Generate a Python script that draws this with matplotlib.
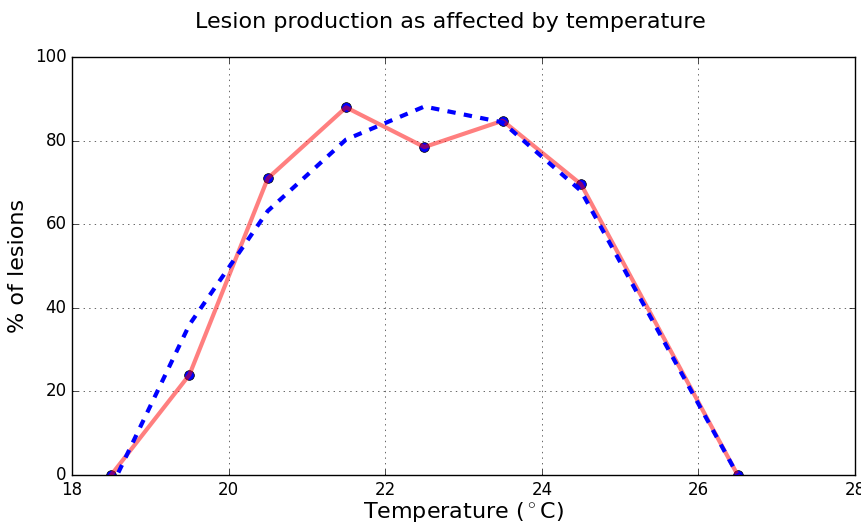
import matplotlib
matplotlib.use("Agg")
import matplotlib.pyplot as plt

# measured lesion percentages
temp = [18.5, 19.5, 20.5, 21.5, 22.5, 23.5, 24.5, 26.5]
lesions = [0, 24, 71, 88, 78.5, 84.8, 69.6, 0]

# fitted response curve
fit_temp = [18.5, 19.5, 20.5, 21.5, 22.5, 23.5, 24.5, 25.5, 26.5]
fit_lesions = [-3, 36, 63.2, 80.3, 88.2, 84.4, 68, 34, 0]


def main():
    plt.style.use('classic')
    fig = plt.figure(figsize=(8.62, 5.25), dpi=100, facecolor='white')
    ax = fig.add_axes([0.0835, 0.0952, 0.9085, 0.7958])
    ax.set_facecolor('white')

    ax.plot(temp, lesions, 'o', color='blue', markersize=7,
            markeredgecolor='black', zorder=2)
    ax.plot(temp, lesions, '-', color='red', lw=3, alpha=0.5, zorder=3)
    ax.plot(fit_temp, fit_lesions, '--', color='blue', lw=3, zorder=4)

    ax.set_xlim(18, 28)
    ax.set_ylim(0, 100)
    ax.set_xticks(range(18, 29, 2))
    ax.set_yticks(range(0, 101, 20))
    ax.grid(True, color='black', linestyle=':', linewidth=0.6, alpha=0.7)
    ax.tick_params(labelsize=12)

    ax.set_title("Lesion production as affected by temperature",
                 fontsize=16, pad=21, x=0.483)
    ax.set_xlabel(r"Temperature ($^\circ$C)", fontsize=16, labelpad=1)
    ax.set_ylabel("% of lesions", fontsize=16)

    fig.savefig("out.png", dpi=100, facecolor='white')


if __name__ == "__main__":
    main()
